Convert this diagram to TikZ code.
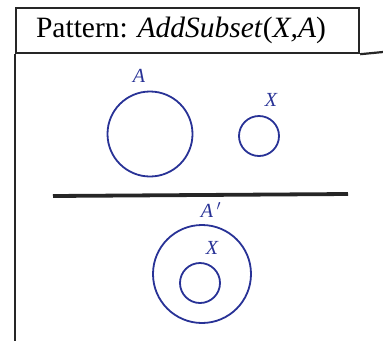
\documentclass[tikz,border=0pt]{standalone}
\usepackage{fontspec}
\setmainfont{Liberation Serif}
\newfontfamily\titlefont{Liberation Serif}
\usetikzlibrary{positioning}
\definecolor{setblue}{RGB}{40,50,150}
\tikzstyle{set}=[circle,draw=setblue,line width=1.8pt,inner sep=0pt]
\tikzstyle{lbl}=[text=setblue,font=\titlefont\fontsize{20}{24}\selectfont\itshape,inner sep=0pt]
\tikzstyle{frame}=[line width=2.2pt,draw=black!85]

\begin{document}
\begin{tikzpicture}[x=1pt,y=-1pt]
\useasboundingbox (0,0) rectangle (383,341);
\node[frame, rectangle, minimum width=343pt, minimum height=45pt, anchor=north west] (T) at (15,7) {};
\node[font=\titlefont\fontsize{29.5}{34}\selectfont, inner sep=0pt] (Ttext) at (181,30) {Pattern: \textit{AddSubset}(\textit{X,A})};
\draw[frame] (T.south east) -- (383,52);
\draw[frame] (T.south west) -- (15,341);
\node[set, minimum size=85pt] (A) at (150,134) {};
\node[set, minimum size=40pt] (X) at (259,136) {};
\node[lbl] (Al) at (139,76) {A};
\node[lbl] (Xl) at (271,100) {X};
\draw[line width=3.8pt, draw=black!85] (53,196) -- (348,194);
\node[set, minimum size=98pt] (Ap) at (202,274) {};
\node[set, minimum size=40pt] (X2) at (200,283) {};
\node[lbl] (Apl) at (211,210) {A\,$'$};
\node[lbl] (X2l) at (212,248) {X};
\end{tikzpicture}
\end{document}
